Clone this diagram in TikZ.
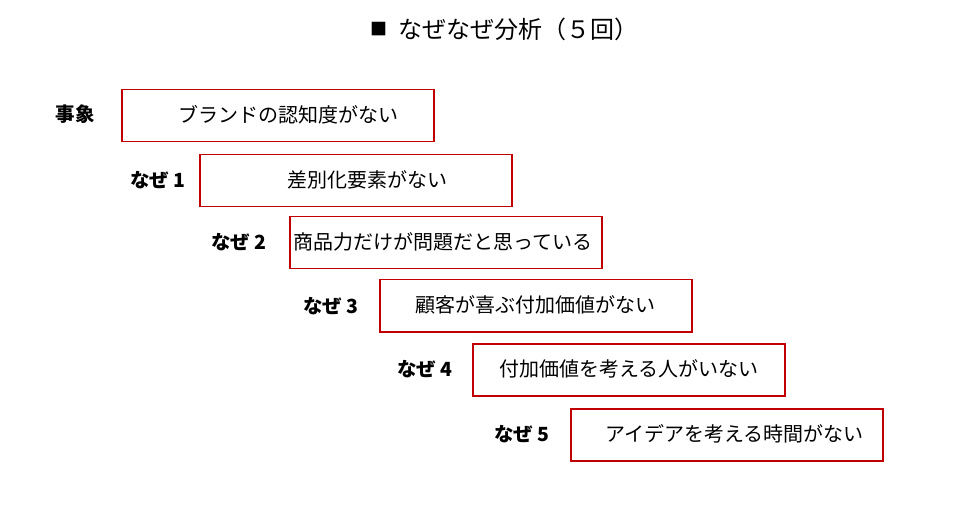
\documentclass[tikz,border=0pt]{standalone}
\usepackage{fontspec}
\setmainfont{Noto Sans CJK JP}
\definecolor{boxred}{HTML}{C00000}
\begin{document}
\begin{tikzpicture}[x=1bp,y=-1bp,
  whybox/.style={draw=boxred,line width=1.5bp,minimum width=312bp,minimum height=52bp,inner sep=0,anchor=north west},
  boxtext/.style={anchor=west,inner sep=0,font=\fontsize{20bp}{24bp}\selectfont},
  lbl/.style={anchor=east,inner sep=0,font=\fontsize{19.5bp}{23bp}\selectfont\bfseries}]
\useasboundingbox (0,0) rectangle (966,529);
\node[anchor=west,inner sep=0,font=\fontsize{17bp}{20bp}\selectfont] (sq) at (370,29) {■};
\node[anchor=west,inner sep=0,font=\fontsize{24bp}{28bp}\selectfont] (title) at (398,29) {なぜなぜ分析（５回）};
\node[whybox] (b0) at (121,89) {};
\node[whybox] (b1) at (199,154) {};
\node[whybox] (b2) at (289,216) {};
\node[whybox] (b3) at (379,279) {};
\node[whybox] (b4) at (472,343) {};
\node[whybox] (b5) at (570,408) {};
\node[boxtext] (t0) at (178,115) {ブランドの認知度がない};
\node[boxtext] (t1) at (287,180) {差別化要素がない};
\node[boxtext] (t2) at (293,242) {商品力だけが問題だと思っている};
\node[boxtext] (t3) at (415,305) {顧客が喜ぶ付加価値がない};
\node[boxtext] (t4) at (499,369) {付加価値を考える人がいない};
\node[boxtext] (t5) at (605,434) {アイデアを考える時間がない};
\node[lbl] (l0) at (95,114) {事象};
\node[lbl] (l1) at (186,180) {なぜ 1};
\node[lbl] (l2) at (267,242) {なぜ 2};
\node[lbl] (l3) at (359,306) {なぜ 3};
\node[lbl] (l4) at (453,369) {なぜ 4};
\node[lbl] (l5) at (550,434) {なぜ 5};
\end{tikzpicture}
\end{document}
